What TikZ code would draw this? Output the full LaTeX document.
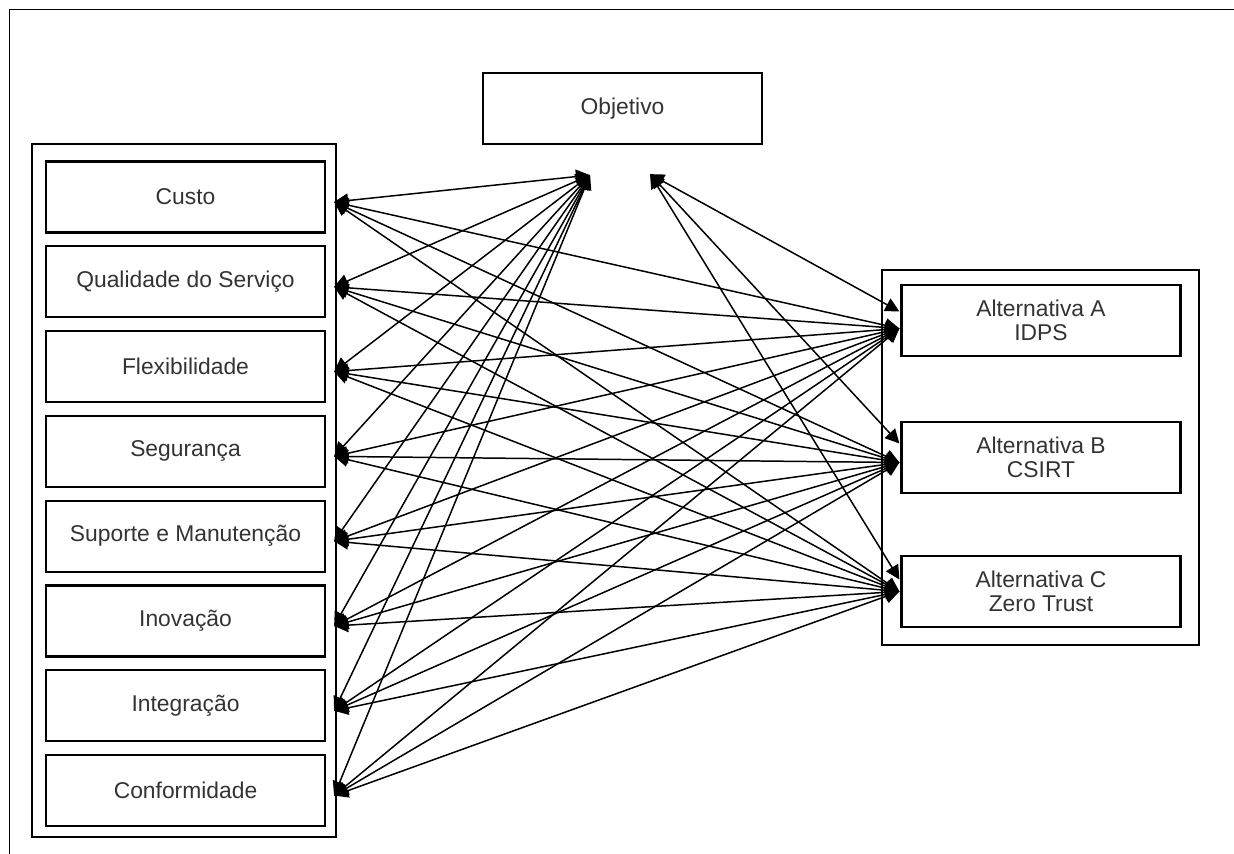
\documentclass[tikz,border=0pt]{standalone}
\usepackage{fontspec}
\setmainfont{Liberation Sans}
\usetikzlibrary{arrows.meta,calc}

\begin{document}
\begin{tikzpicture}[x=0.02cm,y=-0.02cm,
    box/.style={draw,line width=1.3pt,rectangle,inner sep=0pt,
      minimum width=5.58cm,minimum height=1.42cm,align=center,
      text=black!80,font=\fontsize{13}{14}\selectfont},
    frame/.style={draw,line width=1.3pt},
    link/.style={<->,>={Triangle[length=8pt,width=8pt]},line width=0.85pt}]
  \useasboundingbox (0,0) rectangle (1234,854);
  % page frame
  \draw[line width=1pt] (9.5,854) -- (9.5,9.5) -- (1234,9.5);

  % objective
  \node[box] (obj) at (622.5,108.5) {Objetivo};
  \coordinate (o1) at ($(obj.south)+(-32.5,30)$);
  \coordinate (o2) at ($(obj.south)+(27.5,29)$);

  % criteria
  \draw[frame] (32,144) rectangle (336,837);
  \foreach \name [count=\i] in {Custo, Qualidade do Serviço, Flexibilidade, Segurança,
      Suporte e Manutenção, Inovação, Integração, Conformidade} {
    \node[box] (c\i) at (185.5,{197+84.8*(\i-1)}) {\name};
    \coordinate (p\i) at ($(c\i.east)+(8,5)$);
  }

  % alternatives
  \draw[frame] (882,270) rectangle (1199,645);
  \node[box] (a1) at (1041,320.5) {Alternativa A\\IDPS};
  \node[box] (a2) at (1041,457.5) {Alternativa B\\CSIRT};
  \node[box] (a3) at (1041,591.5) {Alternativa C\\Zero Trust};
  \foreach \j/\up/\dn in {1/-9/8, 2/-14/5, 3/-12/0} {
    \coordinate (t\j) at ($(a\j.west)+(-1,\up)$);
    \coordinate (b\j) at ($(a\j.west)+(-1,\dn)$);
  }

  % links
  \foreach \i in {1,...,8} {
    \draw[link] (p\i) -- (o1);
    \foreach \j in {1,2,3}
      \draw[link] (p\i) -- (b\j);
  }
  \foreach \j in {1,2,3}
    \draw[link] (o2) -- (t\j);
\end{tikzpicture}
\end{document}
